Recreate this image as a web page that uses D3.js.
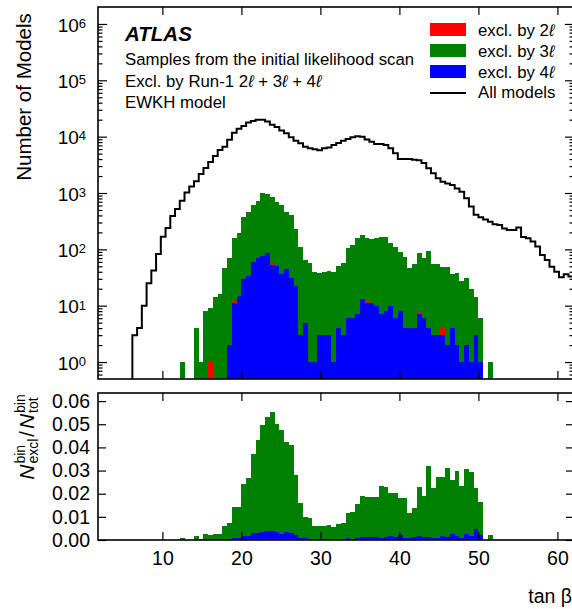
<!DOCTYPE html>
<html>
<head>
<meta charset="utf-8">
<script src="https://cdn.jsdelivr.net/npm/d3@7"></script>
<style>
  body { margin: 0; background: #fff; }
  svg { display: block; font-family: "Liberation Sans", Arial, Helvetica, sans-serif; }
</style>
</head>
<body>
<div id="chart"></div>
<script>
// histogram binning in tan(beta)
const binLow = 2;
const binWidth = 0.6;

// number of models per bin (all models)
const nTotal = [
  0, 0, 0, 0, 0, 0, 0, 3, 4, 10,
  25, 42, 83, 167, 240, 390, 520, 730, 1020, 1300,
  1620, 2170, 2780, 3540, 4530, 5800, 6600, 8800, 11700, 13800,
  15500, 17800, 19000, 19950, 19950, 18600, 16200, 14800, 12900, 11500,
  9800, 8500, 7600, 6600, 6200, 6000, 5750, 6200, 6450, 7100,
  7750, 8500, 9100, 9800, 10200, 10000, 8900, 8100, 7400, 7400,
  7100, 6200, 5100, 4000, 4000, 4000, 3900, 3800, 3400, 2750,
  2240, 1820, 1580, 1480, 1380, 1200, 1050, 810, 575, 410,
  370, 340, 310, 280, 270, 235, 220, 220, 245, 166,
  158, 138, 112, 79, 65, 49, 40, 32, 36, 33
];

// excluded by 4l (blue)
const n4l = [
  0, 0, 0, 0, 0, 0, 0, 0, 0, 0,
  0, 0, 0, 0, 0, 0, 0, 0, 0, 0,
  0, 0, 0, 0, 0, 0, 0, 2, 11, 15,
  30, 34, 60, 69, 76, 85, 53, 50, 36, 44,
  31, 22, 3, 5, 1, 1, 3, 3, 3, 1,
  4, 3, 6, 6, 7, 13, 11, 11, 10, 7,
  8, 10, 6, 8, 4, 4, 4, 7, 6, 4,
  3, 3, 3, 2, 4, 2, 1, 2, 1, 3,
  1, 0, 0, 0, 0, 0, 0, 0, 0, 0,
  0, 0, 0, 0, 0, 0, 0, 0, 0, 0
];

// excluded by 2l (red)
const n2l = [
  0, 0, 0, 0, 0, 0, 0, 0, 0, 0,
  0, 0, 0, 0, 0, 0, 0, 0, 0, 0,
  0, 0, 0, 1, 0, 0, 0, 0, 1, 0,
  0, 0, 0, 0, 0, 0, 1, 0, 0, 0,
  0, 0, 0, 0, 0, 0, 0, 0, 0, 0,
  0, 0, 0, 0, 0, 0, 1, 0, 0, 0,
  0, 0, 0, 0, 0, 0, 0, 1, 0, 0,
  0, 0, 1, 0, 0, 0, 0, 0, 0, 0,
  0, 0, 0, 0, 0, 0, 0, 0, 0, 0,
  0, 0, 0, 0, 0, 0, 0, 0, 0, 0
];

// excluded by 3l (green)
const n3l = [
  0, 0, 0, 0, 0, 0, 0, 0, 0, 0,
  0, 0, 0, 0, 0, 0, 0, 1, 0, 0,
  4, 1, 8, 8, 14, 16, 46, 67, 146, 183,
  350, 432, 555, 661, 914, 865, 806, 650, 579, 416,
  369, 206, 109, 60, 57, 38, 35, 36, 39, 38,
  46, 55, 98, 114, 150, 167, 148, 140, 147, 160,
  159, 118, 103, 82, 68, 42, 51, 77, 63, 91,
  53, 52, 45, 47, 32, 36, 26, 29, 19, 11,
  5, 0, 1, 0, 0, 0, 0, 0, 0, 0,
  0, 0, 0, 0, 0, 0, 0, 0, 0, 0
];

// lower panel: fraction of excluded models per bin (all excluded, and by 4l)
const ratioExcl = [
  0, 0, 0, 0, 0, 0, 0, 0, 0, 0,
  0, 0, 0, 0, 0, 0, 0, 0.0007, 0, 0,
  0.0019, 0.0004, 0.0025, 0.0022, 0.0026, 0.0025, 0.006, 0.0075, 0.0141, 0.0144,
  0.024, 0.0266, 0.037, 0.0431, 0.0496, 0.0532, 0.0553, 0.050, 0.0474, 0.0424,
  0.041, 0.028, 0.0161, 0.0098, 0.0096, 0.0062, 0.006, 0.006, 0.0063, 0.0055,
  0.0068, 0.0072, 0.0115, 0.0122, 0.0154, 0.019, 0.0187, 0.0187, 0.0187, 0.0234,
  0.023, 0.0201, 0.0201, 0.018, 0.018, 0.0115, 0.0137, 0.023, 0.019, 0.032,
  0.0223, 0.0273, 0.0273, 0.0312, 0.0259, 0.0299, 0.0233, 0.0306, 0.0294, 0.0226,
  0.0162, 0, 0.0023, 0, 0, 0, 0, 0, 0, 0,
  0, 0, 0, 0, 0, 0, 0, 0, 0, 0
];

const ratio4l = [
  0, 0, 0, 0, 0, 0, 0, 0, 0, 0,
  0, 0, 0, 0, 0, 0, 0, 0, 0, 0,
  0, 0, 0, 0, 0, 0, 0, 0.0003, 0.0008, 0.001,
  0.0017, 0.0019, 0.0029, 0.0032, 0.0034, 0.004, 0.0038, 0.0034, 0.0028, 0.0035,
  0.003, 0.0022, 0.0008, 0.0008, 0.0002, 0.0002, 0.0005, 0.0005, 0.0005, 0.0002,
  0.0005, 0.0004, 0.0007, 0.0006, 0.0007, 0.0013, 0.0013, 0.0014, 0.0013, 0.001,
  0.0011, 0.0016, 0.0012, 0.002, 0.001, 0.001, 0.0011, 0.0019, 0.0013, 0.0012,
  0.001, 0.001, 0.0019, 0.0014, 0.0025, 0.0017, 0.001, 0.0025, 0.0017, 0.0046,
  0.0022, 0, 0, 0, 0, 0, 0, 0, 0, 0,
  0, 0, 0, 0, 0, 0, 0, 0, 0, 0
];

const xTicks = [10, 20, 30, 40, 50, 60];
const yTopTicks = [1, 10, 100, 1e3, 1e4, 1e5, 1e6];
const yBotTicks = [0, 0.01, 0.02, 0.03, 0.04, 0.05, 0.06];

const legendItems = [
  { label: "excl. by 2", color: "#ff0000" },
  { label: "excl. by 3", color: "#008000" },
  { label: "excl. by 4", color: "#0000ff" }
];

const W = 572, H = 609;
const plotLeft = 98, plotRight = 574;
const top1 = 7, bot1 = 379;
const top2 = 393, bot2 = 540;

const svg = d3.select("#chart").append("svg")
    .attr("width", W)
    .attr("height", H);

const x = d3.scaleLinear().domain([1.85, 62.1]).range([plotLeft, plotRight]);
const yTop = d3.scaleLog().domain([0.5, 2e6]).range([bot1, top1]);
const yBot = d3.scaleLinear().domain([0, 0.0635]).range([bot2, top2]);

const binLo = i => binLow + i * binWidth;
const binHi = i => binLow + (i + 1) * binWidth;

// ---------- upper panel: stacked histogram ----------
const rows = nTotal.map((d, i) => ({ i: i, n4l: n4l[i], n2l: n2l[i], n3l: n3l[i] }));
const stack = d3.stack().keys(["n4l", "n2l", "n3l"])(rows);
const stackColor = { n4l: "#0000ff", n2l: "#ff0000", n3l: "#008000" };

stack.forEach(layer => {
    svg.append("g")
        .attr("fill", stackColor[layer.key])
        .attr("shape-rendering", "crispEdges")
        .selectAll("rect")
        .data(layer.filter(d => d[1] - d[0] > 0))
        .enter()
        .append("rect")
        .attr("x", d => x(binLo(d.data.i)))
        .attr("width", d => x(binHi(d.data.i)) - x(binLo(d.data.i)))
        .attr("y", d => yTop(d[1]))
        .attr("height", d => (d[0] > 0 ? yTop(d[0]) : bot1) - yTop(d[1]));
});

// all models: outline step line
const first = nTotal.findIndex(v => v > 0);
const stepPts = [{ t: binLo(first), n: 0 }];
for (let i = first; i < nTotal.length; i++) {
    stepPts.push({ t: binLo(i), n: nTotal[i] });
    stepPts.push({ t: binHi(i), n: nTotal[i] });
}
const stepLine = d3.line()
    .x(d => x(d.t))
    .y(d => d.n > 0 ? yTop(d.n) : bot1);

svg.append("path")
    .datum(stepPts)
    .attr("d", stepLine)
    .attr("fill", "none")
    .attr("stroke", "#000")
    .attr("stroke-width", 2);

// ---------- lower panel: excluded fraction ----------
svg.append("g")
    .attr("fill", "#008000")
    .attr("shape-rendering", "crispEdges")
    .selectAll("rect")
    .data(ratioExcl.map((v, i) => ({ i: i, v: v })).filter(d => d.v > 0))
    .enter()
    .append("rect")
    .attr("x", d => x(binLo(d.i)))
    .attr("width", d => x(binHi(d.i)) - x(binLo(d.i)))
    .attr("y", d => yBot(d.v))
    .attr("height", d => bot2 - yBot(d.v));

svg.append("g")
    .attr("fill", "#0000ff")
    .attr("shape-rendering", "crispEdges")
    .selectAll("rect")
    .data(ratio4l.map((v, i) => ({ i: i, v: v })).filter(d => d.v > 0))
    .enter()
    .append("rect")
    .attr("x", d => x(binLo(d.i)))
    .attr("width", d => x(binHi(d.i)) - x(binLo(d.i)))
    .attr("y", d => yBot(d.v))
    .attr("height", d => bot2 - yBot(d.v));

// ---------- axes ----------
function styleAxis(g, fontSize) {
    g.select(".domain").remove();
    g.selectAll(".tick line").attr("stroke", "#000").attr("stroke-width", 1.2);
    g.selectAll(".tick text")
        .attr("fill", "#000")
        .style("font-size", fontSize + "px")
        .style("font-family", "'Liberation Sans', Arial, sans-serif");
}

const minorTop = [];
[0.1, 1, 10, 100, 1e3, 1e4, 1e5, 1e6].forEach(dec => {
    for (let m = 2; m <= 9; m++) {
        const v = dec * m;
        if (v > 0.5 && v < 2e6) minorTop.push(v);
    }
});

// upper panel left
svg.append("g")
    .attr("transform", `translate(${plotLeft},0)`)
    .call(d3.axisLeft(yTop).tickValues(yTopTicks).tickSize(-9).tickPadding(12))
    .call(g => styleAxis(g, 19))
    .selectAll(".tick text")
    .attr("dy", "0.38em")
    .each(function (d) {
        const t = d3.select(this);
        t.text("10");
        t.append("tspan")
            .attr("dy", "-0.3em")
            .style("font-size", "13px")
            .text(Math.round(Math.log10(d)));
    });

svg.append("g")
    .attr("transform", `translate(${plotLeft},0)`)
    .call(d3.axisLeft(yTop).tickValues(minorTop).tickSize(-4.5).tickFormat(""))
    .call(g => styleAxis(g, 10));

// upper panel right
svg.append("g")
    .attr("transform", `translate(${plotRight},0)`)
    .call(d3.axisRight(yTop).tickValues(yTopTicks).tickSize(-9).tickFormat(""))
    .call(g => styleAxis(g, 10));
svg.append("g")
    .attr("transform", `translate(${plotRight},0)`)
    .call(d3.axisRight(yTop).tickValues(minorTop).tickSize(-4.5).tickFormat(""))
    .call(g => styleAxis(g, 10));

// upper panel top / bottom
svg.append("g")
    .attr("transform", `translate(0,${top1})`)
    .call(d3.axisTop(x).tickValues(xTicks).tickSize(-8).tickFormat(""))
    .call(g => styleAxis(g, 10));
svg.append("g")
    .attr("transform", `translate(0,${bot1})`)
    .call(d3.axisBottom(x).tickValues(xTicks).tickSize(-8).tickFormat(""))
    .call(g => styleAxis(g, 10));

// lower panel
svg.append("g")
    .attr("transform", `translate(${plotLeft},0)`)
    .call(d3.axisLeft(yBot).tickValues(yBotTicks).tickSize(-8).tickPadding(8).tickFormat(d3.format(".2f")))
    .call(g => styleAxis(g, 19.5));
svg.append("g")
    .attr("transform", `translate(${plotRight},0)`)
    .call(d3.axisRight(yBot).tickValues(yBotTicks).tickSize(-8).tickFormat(""))
    .call(g => styleAxis(g, 10));
svg.append("g")
    .attr("transform", `translate(0,${top2})`)
    .call(d3.axisTop(x).tickValues(xTicks).tickSize(-8).tickFormat(""))
    .call(g => styleAxis(g, 10));
svg.append("g")
    .attr("transform", `translate(0,${bot2})`)
    .call(d3.axisBottom(x).tickValues(xTicks).tickSize(-8).tickPadding(11))
    .call(g => styleAxis(g, 19.5));

// frames
[[top1, bot1], [top2, bot2]].forEach(([t, b]) => {
    svg.append("rect")
        .attr("x", plotLeft)
        .attr("y", t)
        .attr("width", plotRight - plotLeft)
        .attr("height", b - t)
        .attr("fill", "none")
        .attr("stroke", "#000")
        .attr("stroke-width", 1.6);
});

// ---------- labels ----------
svg.append("text")
    .attr("transform", `translate(31,97) rotate(-90)`)
    .attr("text-anchor", "middle")
    .style("font-size", "20.5px")
    .text("Number of Models");

svg.append("text")
    .attr("x", 572)
    .attr("y", 603)
    .attr("text-anchor", "end")
    .style("font-size", "19.5px")
    .text("tan β");

// ratio axis title: N^bin_excl / N^bin_tot
const rl = svg.append("g").attr("transform", "translate(34,437) rotate(-90)");
const rlInner = rl.append("g");
let cx = 0;
function piece(txt, size, dy, italic) {
    const t = rlInner.append("text")
        .attr("x", cx)
        .attr("y", dy)
        .style("font-size", size + "px")
        .style("font-style", italic ? "italic" : "normal")
        .text(txt);
    return t.node().getComputedTextLength();
}
function scriptPair(sup, sub) {
    const a = piece(sup, 14, -9, false);
    const b = piece(sub, 14, 4, false);
    cx += Math.max(a, b);
}
cx += piece("N", 21, 0, true) + 1;
scriptPair("bin", "excl");
cx += 2;
cx += piece("/", 20, 0, false) + 2;
cx += piece("N", 21, 0, true) + 1;
scriptPair("bin", "tot");
rlInner.attr("transform", `translate(${-cx / 2},0)`);

// ATLAS label block
const labelX = 125;
svg.append("text")
    .attr("x", labelX)
    .attr("y", 41)
    .style("font-size", "20.5px")
    .style("font-weight", "bold")
    .style("font-style", "italic")
    .text("ATLAS");

svg.append("text")
    .attr("x", labelX)
    .attr("y", 65)
    .style("font-size", "16.8px")
    .text("Samples from the initial likelihood scan");

const excl = svg.append("text")
    .attr("x", labelX)
    .attr("y", 87)
    .style("font-size", "16.8px");
excl.append("tspan").text("Excl. by Run-1 2");
excl.append("tspan").style("font-style", "italic").text("ℓ");
excl.append("tspan").text(" + 3");
excl.append("tspan").style("font-style", "italic").text("ℓ");
excl.append("tspan").text(" + 4");
excl.append("tspan").style("font-style", "italic").text("ℓ");

svg.append("text")
    .attr("x", labelX)
    .attr("y", 108)
    .style("font-size", "16.8px")
    .text("EWKH model");

// legend
const legX = 430, legTextX = 478;
const legRowY = [23, 44, 65];
legendItems.forEach((item, i) => {
    svg.append("rect")
        .attr("x", legX)
        .attr("y", legRowY[i])
        .attr("width", 36)
        .attr("height", 13)
        .attr("fill", item.color);
    const t = svg.append("text")
        .attr("x", legTextX)
        .attr("y", legRowY[i] + 13)
        .style("font-size", "16.8px");
    t.append("tspan").text(item.label);
    t.append("tspan").style("font-style", "italic").text("ℓ");
});
svg.append("line")
    .attr("x1", legX)
    .attr("x2", legX + 36)
    .attr("y1", 93)
    .attr("y2", 93)
    .attr("stroke", "#000")
    .attr("stroke-width", 2);
svg.append("text")
    .attr("x", legTextX)
    .attr("y", 98)
    .style("font-size", "16.8px")
    .text("All models");
</script>
</body>
</html>
